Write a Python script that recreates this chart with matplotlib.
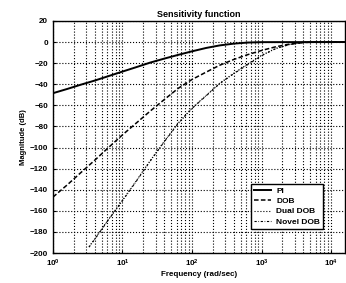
import numpy as np
import matplotlib
matplotlib.use("Agg")
import matplotlib.pyplot as plt

plt.rcParams['font.family'] = ['Liberation Sans', 'DejaVu Sans']
plt.rcParams['font.weight'] = 'bold'
plt.rcParams['mathtext.default'] = 'bf'

# values (frequency in rad/sec, magnitude in dB)
pi_w = [1, 1.6, 2.5, 4, 6.3, 10, 16, 25, 40, 63, 100, 160, 250, 400, 630, 1000, 16000]
pi_db = [-48.5, -44.5, -40.5, -36.5, -32.3, -28, -23.7, -19.5, -15.7, -12.2,
         -8.8, -5.6, -3.2, -1.5, -0.5, -0.1, 0]

dob_w = [1, 1.6, 2.5, 4, 6.3, 10, 16, 25, 40, 63, 100, 160, 250, 400, 630,
         1000, 1600, 2500, 4000, 6300, 16000]
dob_db = [-147, -135.5, -124, -112, -100, -88, -76.5, -65.5, -54.5, -44, -35.5,
          -28.5, -22, -16.5, -12, -8, -4.5, -2, -0.5, 0, 0]

dual_w = [3.3, 4, 6.3, 10, 16, 25, 40, 63, 100, 160, 250, 400, 630,
          1000, 1600, 2500, 4000, 6300, 16000]
dual_db = [-194, -186.5, -168, -150, -131, -112.5, -94, -77, -62.5, -50.5, -39,
           -29.5, -21, -12.5, -6, -2.3, -0.3, 0, 0]

novel_w = [3.3, 4, 6.3, 10, 16, 25, 40, 63, 100, 160, 250, 400, 630,
           1000, 1600, 2500, 4000, 6300, 16000]
novel_db = [-194.5, -187, -168.5, -150.5, -131.5, -113, -94.5, -77.5, -63, -51, -39.5,
            -30, -21.5, -13, -6.3, -2.5, -0.4, 0, 0]

y_ticks = list(range(-200, 21, 20))

fig = plt.figure(figsize=(3.46, 2.83), dpi=100)
ax = fig.add_axes([0.153, 0.106, 0.844, 0.82])

ax.semilogx(pi_w, pi_db, 'k-', linewidth=1.4, label='PI')
ax.semilogx(dob_w, dob_db, 'k--', linewidth=1.1, dashes=(3, 1.5), label='DOB')
ax.semilogx(dual_w, dual_db, 'k:', linewidth=0.8, label='Dual DOB')
ax.semilogx(novel_w, novel_db, color='k', linestyle='-.', linewidth=0.8,
            dashes=(2, 1.5, 0.6, 1.5), label='Novel DOB')

ax.set_xlim(1, 10 ** 4.2)
ax.set_ylim(-200, 20)
ax.set_yticks(y_ticks)
ax.set_xticks([1, 10, 100, 1000, 10000])
ax.grid(True, which='major', color='k', linestyle=':', linewidth=0.8)
ax.grid(True, which='minor', axis='x', color='k', linestyle=':', linewidth=0.8)
ax.tick_params(labelsize=5.8, length=2, direction='in', which='both')
ax.tick_params(which='minor', length=1)

ax.set_title('Sensitivity function', fontsize=6.5, fontweight='bold', pad=3)
ax.set_xlabel('Frequency (rad/sec)', fontsize=5.8, fontweight='bold', labelpad=1)
ax.set_ylabel('Magnitude (dB)', fontsize=5.5, fontweight='bold', labelpad=2)

leg = ax.legend(loc='lower right', bbox_to_anchor=(0.94, 0.085), fontsize=6,
                frameon=True, fancybox=False, edgecolor='k', framealpha=1,
                handlelength=2.0, borderpad=0.4, labelspacing=0.3, handletextpad=0.6)
leg.get_frame().set_linewidth(1.0)

for s in ax.spines.values():
    s.set_linewidth(1.0)

fig.savefig('out.png', dpi=100)
